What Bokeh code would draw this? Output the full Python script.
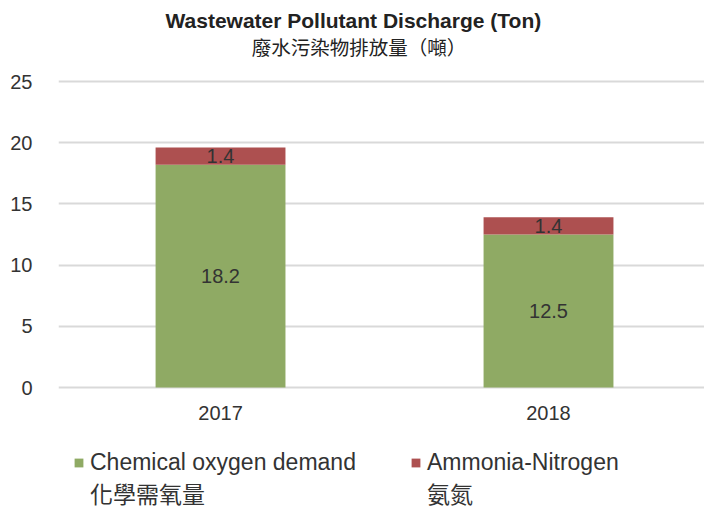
from bokeh.plotting import figure
from bokeh.models import ColumnDataSource, Range1d, Label, Legend, LegendItem, FixedTicker
from bokeh.core.properties import value
from bokeh.embed import file_html
from bokeh.resources import INLINE

# ---- data ----
years = ["2017", "2018"]
cod = [18.2, 12.5]
nh3n = [1.4, 1.4]
series_en = ["Chemical oxygen demand", "Ammonia-Nitrogen"]
series_zh = ["化學需氧量", "氨氮"]
colors = ["#8FAA64", "#AD5050"]
y_ticks = [0, 5, 10, 15, 20, 25]
title_en = "Wastewater Pollutant Discharge (Ton)"
title_zh = "廢水污染物排放量（噸）"

FONT = "Liberation Sans, Noto Sans CJK TC"
TXT = "#333333"

# ---- layout constants (pixels) ----
W, H = 704, 510
LEFT = 58
Y0_PX = 387          # pixel row of value 0
PX_PER_UNIT = 12.24  # vertical scale

xs = list(range(len(years)))
cod_mid = [c / 2 for c in cod]
nh_mid = [c + n / 2 for c, n in zip(cod, nh3n)]
src = ColumnDataSource(dict(x=xs, cod=cod, nh3n=nh3n, cod_mid=cod_mid, nh_mid=nh_mid,
                            cod_lbl=[f"{v:.1f}" for v in cod],
                            nh_lbl=[f"{v:.1f}" for v in nh3n]))

y_top = Y0_PX / PX_PER_UNIT
y_bot = -(H - Y0_PX) / PX_PER_UNIT

p = figure(width=W, height=H, x_range=Range1d(-0.494, 1.4756), y_range=Range1d(y_bot, y_top),
           output_backend="svg", toolbar_location=None,
           min_border_left=LEFT, min_border_right=0, min_border_top=0, min_border_bottom=0)
p.outline_line_color = None

rs = p.vbar_stack(["cod", "nh3n"], x="x", width=0.396, color=colors, line_color=None, source=src)
# invisible stand-ins so the Chinese legend row carries no swatch
ghost = [p.scatter(x=[], y=[], marker="square", alpha=0) for _ in range(2)]

p.text(x="x", y="cod_mid", text="cod_lbl", source=src, text_align="center", text_baseline="middle",
       text_font=value("Liberation Sans"), text_font_size="20px", text_color=TXT)
p.text(x="x", y="nh_mid", text="nh_lbl", source=src, text_align="center", text_baseline="middle",
       text_font=value("Liberation Sans"), text_font_size="20px", text_color=TXT)

# axes
p.yaxis.ticker = FixedTicker(ticks=y_ticks)
p.yaxis.axis_line_color = None
p.yaxis.major_tick_line_color = None
p.yaxis.minor_tick_line_color = None
p.yaxis.major_label_text_font = FONT
p.yaxis.major_label_text_font_size = "20px"
p.yaxis.major_label_text_color = TXT
p.yaxis.major_label_standoff = 20

p.xaxis.fixed_location = 0
p.xaxis.ticker = FixedTicker(ticks=xs)
p.xaxis.major_label_overrides = {i: y for i, y in enumerate(years)}
p.xaxis.axis_line_color = None
p.xaxis.major_tick_line_color = None
p.xaxis.minor_tick_line_color = None
p.xaxis.major_label_text_font = FONT
p.xaxis.major_label_text_font_size = "20px"
p.xaxis.major_label_text_color = TXT
p.xaxis.major_label_standoff = 12

p.xgrid.grid_line_color = None
p.ygrid.grid_line_color = "#d9d9d9"
p.ygrid.grid_line_width = 2

# titles
p.add_layout(Label(x=0.405, y=(Y0_PX - 20) / PX_PER_UNIT, text=title_en, text_align="center",
                   text_baseline="middle", text_font=FONT, text_font_size="21px",
                   text_font_style="bold", text_color="#222222"))
p.add_layout(Label(x=0.422, y=(Y0_PX - 47) / PX_PER_UNIT, text=title_zh, text_align="center",
                   text_baseline="middle", text_font=FONT, text_font_size="19.5px",
                   text_color="#222222"))

items = [LegendItem(label=series_en[0], renderers=[rs[0]]),
         LegendItem(label=series_en[1], renderers=[rs[1]]),
         LegendItem(label=series_zh[0], renderers=[ghost[0]]),
         LegendItem(label=series_zh[1], renderers=[ghost[1]])]
legend = Legend(items=items, orientation="horizontal", ncols=2, location=(15, 0),
                label_text_font=FONT, label_text_font_size="23px", label_text_color=TXT,
                glyph_width=11, glyph_height=11, label_height=27, label_width=320,
                border_line_color=None, background_fill_alpha=0,
                spacing=0, label_standoff=6, padding=0, margin=0)
p.add_layout(legend, "center")

open("out.html", "w").write(file_html(p, INLINE))
